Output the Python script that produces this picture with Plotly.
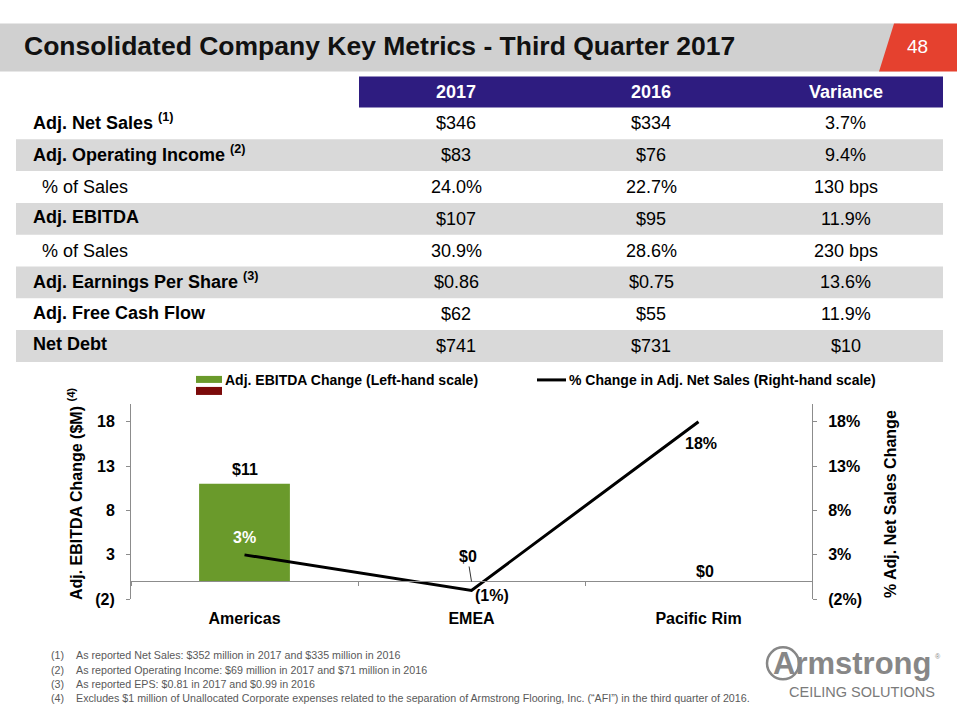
import plotly.graph_objects as go

W, H = 960, 720
# measured vertical calibration of the photographed page (picture_y = V_SCALE * y + V_OFF)
V_SCALE, V_OFF = 0.986, 0.66

# ---------------- data ----------------
title_text = "Consolidated Company Key Metrics - Third Quarter 2017"
page_number = "48"

table_columns = ["2017", "2016", "Variance"]
metric_names = ["Adj. Net Sales", "Adj. Operating Income", "% of Sales", "Adj. EBITDA",
                "% of Sales", "Adj. Earnings Per Share", "Adj. Free Cash Flow", "Net Debt"]
metric_notes = ["(1)", "(2)", "", "", "", "(3)", "", ""]
values_2017 = ["$346", "$83", "24.0%", "$107", "30.9%", "$0.86", "$62", "$741"]
values_2016 = ["$334", "$76", "22.7%", "$95", "28.6%", "$0.75", "$55", "$731"]
values_variance = ["3.7%", "9.4%", "130 bps", "11.9%", "230 bps", "13.6%", "11.9%", "$10"]

regions = ["Americas", "EMEA", "Pacific Rim"]
ebitda_change = [11, 0, 0]        # $M, left-hand scale
net_sales_change = [3, -1, 18]    # %, right-hand scale
axis_ticks = [-2, 3, 8, 13, 18]
axis_range = [-2, 20]

legend_bar = "Adj. EBITDA Change (Left-hand scale)"
legend_line = "% Change in Adj. Net Sales (Right-hand scale)"
left_axis_title = "Adj. EBITDA Change ($M)"
left_axis_note = "(4)"
right_axis_title = "% Adj. Net Sales Change"

footnote_marks = ["(1)", "(2)", "(3)", "(4)"]
footnotes = [
    "As reported Net Sales: $352 million in 2017 and $335 million in 2016",
    "As reported Operating Income: $69 million in 2017 and $71 million in 2016",
    "As reported EPS: $0.81 in 2017 and $0.99 in 2016",
    "Excludes $1 million of Unallocated Corporate expenses related to the separation of "
    "Armstrong Flooring, Inc. (\u201cAFI\u201d) in the third quarter of 2016.",
]
logo_name = "Armstrong"
logo_tagline = "CEILING SOLUTIONS"

# ---------------- styles ----------------
FONT = "Liberation Sans, Arial, sans-serif"
PURPLE = "#2e1c80"
ROW_GRAY = "#d9d9d9"
BAR_GRAY = "#d0d0d0"
RED = "#e5412f"
GREEN = "#6a9a2b"
DARK_RED = "#7b0a0a"
AXIS = "#8c8c8c"
NOTE_GRAY = "#595959"
LOGO_GRAY = "#878787"


def fx(x):
    return x / W


def fy(y):
    return 1 - ((y - V_OFF) / V_SCALE) / H


def money(v):
    return f"(${abs(v):g})" if v < 0 else f"${v:g}"


def pct(v):
    return f"({abs(v):g}%)" if v < 0 else f"{v:g}%"


def num(v):
    return f"({abs(v):g})" if v < 0 else f"{v:g}"


fig = go.Figure()
shapes = []
ann = []

# ---------------- title bar ----------------
shapes.append(dict(type="rect", xref="paper", yref="paper", x0=fx(0), x1=fx(900), y0=fy(72), y1=fy(24),
                   fillcolor=BAR_GRAY, line=dict(width=0), layer="below"))
shapes.append(dict(type="path", xref="paper", yref="paper",
                   path=f"M {fx(894)},{fy(24)} L {fx(957)},{fy(24)} L {fx(957)},{fy(72)} L {fx(879)},{fy(72)} Z",
                   fillcolor=RED, line=dict(width=0), layer="below"))
ann.append(dict(text=f"<b>{title_text}</b>", x=fx(22), y=fy(47), xref="paper", yref="paper",
                xanchor="left", yanchor="middle", showarrow=False,
                font=dict(family=FONT, size=26.5, color="#111111")))
ann.append(dict(text=page_number, x=fx(917), y=fy(47), xref="paper", yref="paper",
                xanchor="center", yanchor="middle", showarrow=False,
                font=dict(family=FONT, size=19, color="white")))

# ---------------- table ----------------
TBL_LEFT, TBL_RIGHT = 16, 943
HDR_TOP, HDR_H, ROW_H = 77, 31, 31.75
col_edges = [359, 553.7, 748.3, 943]
col_centers = [(a + b) / 2 for a, b in zip(col_edges[:-1], col_edges[1:])]

shapes.append(dict(type="rect", xref="paper", yref="paper", x0=fx(col_edges[0]), x1=fx(col_edges[-1]),
                   y0=fy(HDR_TOP + HDR_H), y1=fy(HDR_TOP), fillcolor=PURPLE, line=dict(width=0),
                   layer="below"))
for c, cx in zip(table_columns, col_centers):
    ann.append(dict(text=f"<b>{c}</b>", x=fx(cx), y=fy(HDR_TOP + HDR_H / 2), xref="paper", yref="paper",
                    xanchor="center", yanchor="middle", showarrow=False,
                    font=dict(family=FONT, size=18, color="white")))

row_values = list(zip(values_2017, values_2016, values_variance))
for i, (name, note, vals) in enumerate(zip(metric_names, metric_notes, row_values)):
    top = HDR_TOP + HDR_H + i * ROW_H
    mid = top + ROW_H / 2
    if i % 2 == 1:
        shapes.append(dict(type="rect", xref="paper", yref="paper", x0=fx(TBL_LEFT), x1=fx(TBL_RIGHT),
                           y0=fy(top + ROW_H), y1=fy(top), fillcolor=ROW_GRAY, line=dict(width=0),
                           layer="below"))
    if name.startswith("%"):
        label, lx, ly = name, 40, mid
    else:
        sup = f" <sup>{note}</sup>" if note else ""
        label, lx, ly = f"<b>{name}{sup}</b>", 31, mid - 1.5
    ann.append(dict(text=label, x=fx(lx), y=fy(ly), xref="paper", yref="paper",
                    xanchor="left", yanchor="middle", showarrow=False,
                    font=dict(family=FONT, size=18, color="black")))
    for v, cx in zip(vals, col_centers):
        ann.append(dict(text=v, x=fx(cx), y=fy(mid), xref="paper", yref="paper",
                        xanchor="center", yanchor="middle", showarrow=False,
                        font=dict(family=FONT, size=18, color="black")))

# ---------------- chart ----------------
fig.add_trace(go.Bar(
    x=regions, y=ebitda_change, yaxis="y", width=0.4,
    marker=dict(color=GREEN, line=dict(width=0)), showlegend=False, hoverinfo="skip",
))
fig.add_trace(go.Scatter(
    x=regions, y=net_sales_change, yaxis="y2", mode="lines",
    line=dict(color="black", width=3), showlegend=False, hoverinfo="skip",
))

y_dom = [fy(599), fy(404)]
zero_pos = y_dom[0] + (0 - axis_range[0]) / (axis_range[1] - axis_range[0]) * (y_dom[1] - y_dom[0])
tickfont = dict(family=FONT, size=16, color="black", weight="bold")

fig.update_layout(
    width=W, height=H,
    margin=dict(l=0, r=0, t=0, b=0),
    paper_bgcolor="white", plot_bgcolor="rgba(0,0,0,0)",
    showlegend=False,
    xaxis=dict(
        domain=[fx(131), fx(812)], anchor="free", position=zero_pos,
        type="category", showline=True, linecolor=AXIS, linewidth=1,
        ticks="outside", tickson="boundaries", ticklen=4, tickcolor=AXIS,
        tickfont=tickfont, ticklabelstandoff=22, showgrid=False, zeroline=False,
    ),
    yaxis=dict(
        domain=y_dom, range=axis_range, tickvals=axis_ticks,
        ticktext=[num(t) for t in axis_ticks],
        showline=True, linecolor=AXIS, ticks="outside", ticklen=4, tickcolor=AXIS,
        tickfont=tickfont, ticklabelstandoff=8, showgrid=False, zeroline=False,
    ),
    yaxis2=dict(
        domain=y_dom, range=axis_range, tickvals=axis_ticks,
        ticktext=[pct(t) for t in axis_ticks], overlaying="y", side="right", anchor="x",
        showline=True, linecolor=AXIS, ticks="outside", ticklen=4, tickcolor=AXIS,
        tickfont=tickfont, ticklabelstandoff=8, showgrid=False, zeroline=False,
    ),
)

# legend
shapes += [
    dict(type="rect", xref="paper", yref="paper", x0=fx(196), x1=fx(222), y0=fy(383), y1=fy(376),
         fillcolor=GREEN, line=dict(width=0)),
    dict(type="rect", xref="paper", yref="paper", x0=fx(196), x1=fx(222), y0=fy(395), y1=fy(387),
         fillcolor=DARK_RED, line=dict(width=0)),
    dict(type="line", xref="paper", yref="paper", x0=fx(537), x1=fx(566), y0=fy(380), y1=fy(380),
         line=dict(color="black", width=3)),
]
ann.append(dict(text=f"<b>{legend_bar}</b>", x=fx(223), y=fy(380), xref="paper", yref="paper",
                xanchor="left", yanchor="middle", showarrow=False,
                font=dict(family=FONT, size=14, color="black")))
ann.append(dict(text=f"<b>{legend_line}</b>", x=fx(567), y=fy(380), xref="paper", yref="paper",
                xanchor="left", yanchor="middle", showarrow=False,
                font=dict(family=FONT, size=14, color="black")))

# axis titles
ann.append(dict(text=f"<b>{left_axis_title} <sup>{left_axis_note}</sup></b>", x=fx(75), y=fy(494),
                xref="paper", yref="paper", textangle=-90, xanchor="center", yanchor="middle",
                showarrow=False, font=dict(family=FONT, size=16, color="black")))
ann.append(dict(text=f"<b>{right_axis_title}</b>", x=fx(890), y=fy(504),
                xref="paper", yref="paper", textangle=-90, xanchor="center", yanchor="middle",
                showarrow=False, font=dict(family=FONT, size=16, color="black")))

# bar value labels
bar_label_pos = [dict(yshift=14), dict(arrow=(-4, -25)), dict(xshift=6, yshift=10)]
for r, v, p in zip(regions, ebitda_change, bar_label_pos):
    a = dict(text=f"<b>{money(v)}</b>", x=r, y=v, xref="x", yref="y",
             font=dict(family=FONT, size=16, color="black"))
    if "arrow" in p:
        a.update(showarrow=True, ax=p["arrow"][0], ay=p["arrow"][1], arrowhead=0,
                 arrowwidth=1, arrowcolor="#333333", standoff=0)
    else:
        a.update(showarrow=False, xshift=p.get("xshift", 0), yshift=p.get("yshift", 0))
    ann.append(a)

# line value labels
line_label_pos = [dict(yshift=17, color="white"), dict(xshift=20, yshift=-5, color="black"),
                  dict(xshift=2, yshift=-22, color="black")]
for r, v, p in zip(regions, net_sales_change, line_label_pos):
    ann.append(dict(text=f"<b>{pct(v)}</b>", x=r, y=v, xref="x", yref="y2", showarrow=False,
                    xshift=p.get("xshift", 0), yshift=p["yshift"],
                    font=dict(family=FONT, size=16, color=p["color"])))

# footnotes
for i, (m, t) in enumerate(zip(footnote_marks, footnotes)):
    yy = 655 + i * 14.3
    ann.append(dict(text=m, x=fx(49), y=fy(yy), xref="paper", yref="paper", xanchor="left",
                    yanchor="middle", showarrow=False, font=dict(family=FONT, size=10.7, color=NOTE_GRAY)))
    ann.append(dict(text=t, x=fx(74), y=fy(yy), xref="paper", yref="paper", xanchor="left",
                    yanchor="middle", showarrow=False, font=dict(family=FONT, size=10.7, color=NOTE_GRAY)))

# logo
shapes.append(dict(type="circle", xref="paper", yref="paper", x0=fx(767), x1=fx(799), y0=fy(679), y1=fy(647),
                   line=dict(color=LOGO_GRAY, width=2.5)))
ann.append(dict(text=f"<b>{logo_name}</b>", x=fx(771), y=fy(663), xref="paper", yref="paper",
                xanchor="left", yanchor="middle", showarrow=False,
                font=dict(family=FONT, size=31, color=LOGO_GRAY)))
ann.append(dict(text="\u00ae", x=fx(933), y=fy(656), xref="paper", yref="paper",
                xanchor="left", yanchor="middle", showarrow=False,
                font=dict(family=FONT, size=7, color=LOGO_GRAY)))
ann.append(dict(text=logo_tagline, x=fx(862), y=fy(692), xref="paper", yref="paper",
                xanchor="center", yanchor="middle", showarrow=False,
                font=dict(family=FONT, size=14.5, color="#7a7a7a")))

fig.update_layout(shapes=shapes, annotations=ann)

# place the 960x720 figure flush with the window (no default 8px body margin)
fig.write_html(
    "out.html",
    config={"displayModeBar": False},
    post_script="document.body.style.margin='0';document.body.style.overflow='hidden';",
)
